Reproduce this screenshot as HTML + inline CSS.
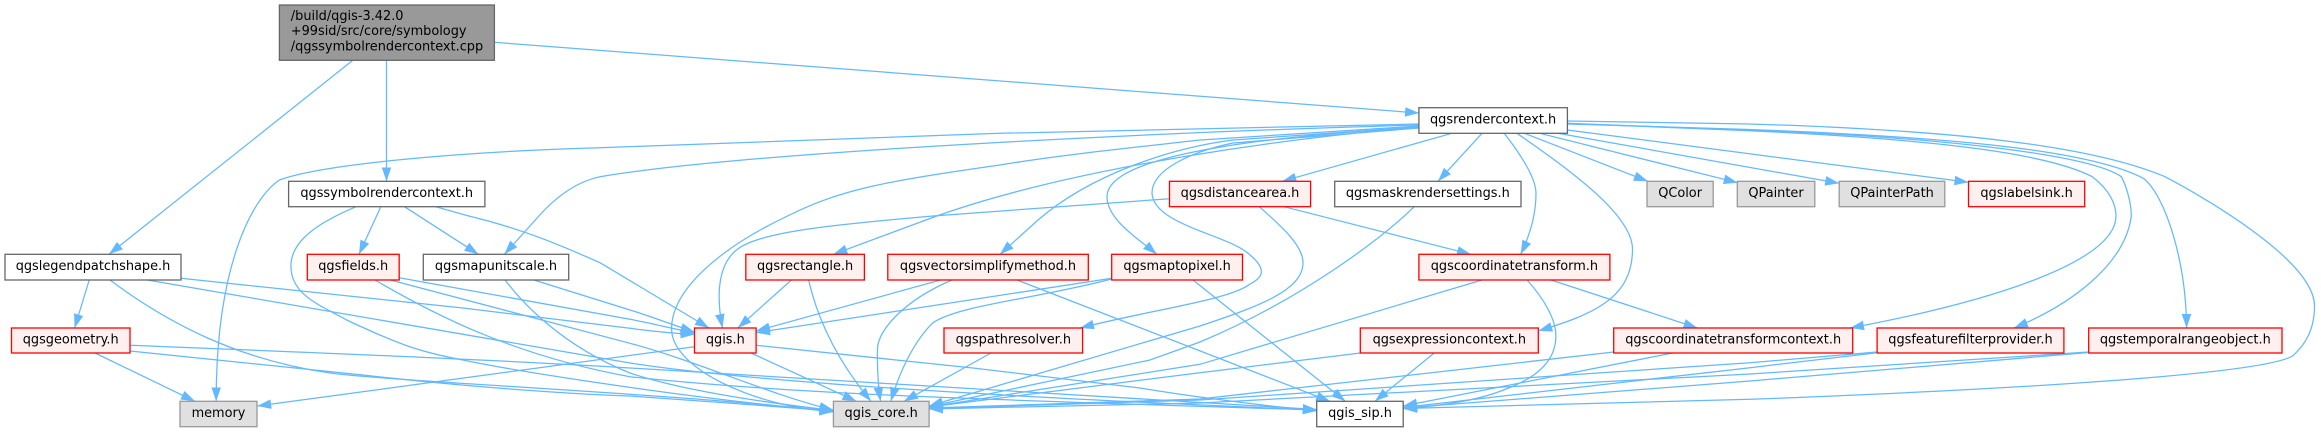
<!DOCTYPE html>
<html>
<head>
<meta charset="utf-8">
<style>
html,body{margin:0;padding:0;background:#fff;}
svg{display:block;}
text{font-family:"DejaVu Sans","Liberation Sans",sans-serif;font-size:12.9px;fill:#000;transform:translateY(-0.5px);}
.m{text-anchor:middle;}
.w{fill:#fff;stroke:#666;stroke-width:1.3;}
.g{fill:#e0e0e0;stroke:#999;stroke-width:1.3;}
.r{fill:#fff0f0;stroke:#f00;stroke-width:1.3;}
.e path{fill:none;stroke:#63b8ff;stroke-width:1.25;marker-end:url(#a);}
</style>
</head>
<body>
<svg width="2321" height="432" viewBox="0 0 2321 432" xmlns="http://www.w3.org/2000/svg">
<defs>
<marker id="a" markerUnits="userSpaceOnUse" markerWidth="15" markerHeight="11" refX="14" refY="5" orient="auto">
<path d="M0 0.2L14 5L0 9.8Z" style="fill:#63b8ff;stroke:none;marker-end:none"/>
</marker>
</defs>
<rect width="2321" height="432" fill="#fff"/>
<g class="e">
<path d="M352.8 60.3L109 254.3"/>
<path d="M386.5 60.3V181.3"/>
<path d="M494.4 42.3L1419 113"/>
<path d="M1419 124L1000 133.3L600 147.7C450 152 320 165 279.4 180C250 200 216 270 216.2 401.3"/>
<path d="M1419 125C1200 131 760 150 600 176.7C575 182 555 198 538.9 216L504.4 254.3"/>
<path d="M1419 126L1200 140C1130 148 1060 155 1000 165C880 182 840 190 787.5 216C720 248 671 290 671.6 329.3C672 370 760 408 833.4 411.5"/>
<path d="M1419 127C1300 137 1080 165 936.8 216L833.4 254.3"/>
<path d="M1419 127L1233 140C1170 148 1090 175 1038 220L1000 254.3"/>
<path d="M1419 127C1300 135 1107 150 1107 196.7C1107 220 1140 240 1156.8 254.3"/>
<path d="M1419 128L1233 143C1190 152 1152 170 1152 193C1153 225 1230 235 1250 255C1268 270 1262 278 1250 284C1230 300 1150 310 1080 328"/>
<path d="M1451.8 133.3L1282.3 181.3"/>
<path d="M1482 133.3L1438 181.3"/>
<path d="M1504.2 133.3C1525 160 1536 180 1536 193.3C1536 215 1530 235 1520.7 254.3"/>
<path d="M1516.9 133.3C1570 170 1632.5 215 1632.5 249.3C1632.5 300 1590 315 1538.3 331"/>
<path d="M1524.5 133.3L1647.8 181.3"/>
<path d="M1539.8 133.3L1737.7 182.7"/>
<path d="M1557.8 133.3L1839.2 183.3"/>
<path d="M1567.4 130L1968.5 182.3"/>
<path d="M1567.4 123.3L1750 130.7C1950 140 2050 155 2092.3 176.7C2110 190 2116 205 2116 216C2116 260 2000 300 1850 328"/>
<path d="M1567.4 123.5L1750 130C1950 138 2090 155 2121.4 176.7C2128 190 2131.3 205 2131.3 216C2125 265 2070 305 2014 328"/>
<path d="M1567.4 124L1750 129.5C1950 137 2090 150 2143.3 178.3C2165 195 2186 260 2186.6 328"/>
<path d="M1567.4 121L1750 124C1950 130 2090 145 2165 176.7C2200 195 2314.5 260 2314.5 306C2314.5 330 2305 345 2292.6 356C2260 375 2000 390 1750 399.3L1403.2 408.5"/>
<path d="M356 206.7C320 222 290.9 240 290.9 266C290.9 295 320 305 346.7 320C400 345 420 352 463 360C520 372 700 400 833.4 411"/>
<path d="M380.8 206.7L359 254.3"/>
<path d="M404.5 206.7L478.4 254.3"/>
<path d="M435.5 206.7L468.8 216C520 228 560 245 600 262.7L709 328"/>
<path d="M89.2 280L74.6 328"/>
<path d="M181 278.3L463 308L630 328.3C650 331 670 333 694.5 334.5"/>
<path d="M147.3 280L630 363C750 382 1000 397 1316.7 410"/>
<path d="M110 280C170 325 240 360 330 373C400 382 700 395 833.4 412"/>
<path d="M399.2 277.7L630 319.3C650 323 670 328 694.5 333"/>
<path d="M390.4 280L630 343.3C700 362 770 395 833.4 410"/>
<path d="M375 280C430 312 510 355 630 376.7C800 395 1000 400 1316.7 410"/>
<path d="M533.9 280L630 310C650 316 670 324 694.5 332"/>
<path d="M505.2 280C520 300 560 345 630 373C680 390 760 402 833.4 410.5"/>
<path d="M95 353L195 401.3"/>
<path d="M130 351L363 375C450 385 550 393 630 396C700 401 760 405 833.4 411"/>
<path d="M130 345.3C300 352 500 360 630 368C800 378 1050 395 1316.7 409.5"/>
<path d="M694.5 346.7L257.2 406"/>
<path d="M751 353L856.4 401.3"/>
<path d="M756.1 345.3L973 368L1140 388C1200 398 1260 405 1316.7 411"/>
<path d="M791.4 280L737.8 328"/>
<path d="M808.6 280C820 330 845 370 871 401.3"/>
<path d="M940.6 280L756.1 331"/>
<path d="M952 280C905 300 877.5 330 877.5 349C877 370 878 385 880.5 401.3"/>
<path d="M1017 280L1330 401.3"/>
<path d="M1111.7 278.3L756.1 332.7"/>
<path d="M1111.7 279C1030 300 960 305 933 322.7C915 340 900 370 890.9 401.3"/>
<path d="M1193 280L1345.4 401.3"/>
<path d="M991 353L904 401.3"/>
<path d="M1169.5 198.7L933 216C830 225 760 232 737.8 249C720 262 715 290 722.5 328"/>
<path d="M1259.3 206.7C1280 225 1303 245 1303 262.7C1303 290 1260 306 1200 326L929 406"/>
<path d="M1284 206.7L1471 254.3"/>
<path d="M1414.3 206.7C1380 240 1300 300 1200 342L1150 360L929 406.5"/>
<path d="M1482 280L1200 364.3L929 407"/>
<path d="M1527.2 280C1545 300 1555.9 320 1555.9 336C1555.9 365 1530 380 1506 389C1480 400 1440 406 1403 408.7"/>
<path d="M1551 280L1697.5 328"/>
<path d="M1360.3 353L1200 372.7L929 407"/>
<path d="M1434.2 353L1374.9 401.3"/>
<path d="M1613.7 352L1200 399L929 408"/>
<path d="M1672.6 353L1403.2 406"/>
<path d="M1877 352L1750 362.7L1200 400L929 408.5"/>
<path d="M1877 352.7L1750 367.7L1403.2 407.5"/>
<path d="M2088.7 352L1750 374L1200 403L929 409"/>
<path d="M2088.7 352.5L1750 381L1403.2 408"/>
</g>
<g>
<rect x="279.4" y="5" width="215" height="55.3" fill="#999" stroke="#666" stroke-width="1.3"/>
<text x="290.8" y="20.7">/build/qgis-3.42.0</text>
<text x="290.8" y="35.7">+99sid/src/core/symbology</text>
<text x="290.8" y="51">/qgssymbolrendercontext.cpp</text>

<rect class="w" x="288.6" y="181.3" width="196.3" height="25.4"/><text class="m" x="386.7" y="197.5">qgssymbolrendercontext.h</text>
<rect class="w" x="1418.9" y="107.7" width="148.5" height="25.6"/><text class="m" x="1493.1" y="124">qgsrendercontext.h</text>
<rect class="w" x="5" y="254.3" width="176" height="25.7"/><text class="m" x="93" y="270.5">qgslegendpatchshape.h</text>
<rect class="r" x="307.3" y="254.3" width="91.9" height="25.7"/><text class="m" x="353.2" y="270.5">qgsfields.h</text>
<rect class="w" x="423.3" y="254.3" width="145.4" height="25.7"/><text class="m" x="496" y="270.5">qgsmapunitscale.h</text>
<rect class="r" x="11.5" y="328" width="118.5" height="25"/><text class="m" x="70.7" y="344">qgsgeometry.h</text>
<rect class="g" x="180" y="401.3" width="77" height="25.4"/><text class="m" x="218.5" y="417.5">memory</text>
<rect class="r" x="745.8" y="254.3" width="118.6" height="25.7"/><text class="m" x="805.1" y="270.5">qgsrectangle.h</text>
<rect class="r" x="887.8" y="254.3" width="200.5" height="25.7"/><text class="m" x="988" y="270.5">qgsvectorsimplifymethod.h</text>
<rect class="r" x="1111.7" y="254.3" width="130.8" height="25.7"/><text class="m" x="1177.1" y="270.5">qgsmaptopixel.h</text>
<rect class="r" x="694.5" y="328" width="61.6" height="25"/><text class="m" x="725.3" y="344">qgis.h</text>
<rect class="r" x="944" y="328" width="138.6" height="25"/><text class="m" x="1013.3" y="344">qgspathresolver.h</text>
<rect class="g" x="833.4" y="401.3" width="95.7" height="25.4"/><text class="m" x="881.2" y="417.5">qgis_core.h</text>
<rect class="r" x="1169.5" y="181.3" width="141.1" height="25.4"/><text class="m" x="1240" y="197.5">qgsdistancearea.h</text>
<rect class="w" x="1334.7" y="181.3" width="186.3" height="25.4"/><text class="m" x="1427.8" y="197.5">qgsmaskrendersettings.h</text>
<rect class="g" x="1647" y="181.3" width="66.2" height="25.4"/><text class="m" x="1680.1" y="197.5">QColor</text>
<rect class="g" x="1737.3" y="181.3" width="77.5" height="25.4"/><text class="m" x="1776" y="197.5">QPainter</text>
<rect class="g" x="1839.2" y="181.3" width="105.6" height="25.4"/><text class="m" x="1892" y="197.5">QPainterPath</text>
<rect class="r" x="1968.5" y="181.3" width="116.2" height="25.4"/><text class="m" x="2026.6" y="197.5">qgslabelsink.h</text>
<rect class="r" x="1418.9" y="254.3" width="191" height="25.7"/><text class="m" x="1514.4" y="270.5">qgscoordinatetransform.h</text>
<rect class="r" x="1360.3" y="328" width="178" height="25"/><text class="m" x="1449.3" y="344">qgsexpressioncontext.h</text>
<rect class="r" x="1613.7" y="328" width="239" height="25"/><text class="m" x="1733.2" y="344">qgscoordinatetransformcontext.h</text>
<rect class="r" x="1877.1" y="328" width="186.8" height="25"/><text class="m" x="1970.5" y="344">qgsfeaturefilterprovider.h</text>
<rect class="r" x="2088.7" y="328" width="193.3" height="25"/><text class="m" x="2185.3" y="344">qgstemporalrangeobject.h</text>
<rect class="w" x="1316.7" y="401.3" width="86.5" height="25.4"/><text class="m" x="1360" y="417.5">qgis_sip.h</text>
</g>
</svg>
</body>
</html>
